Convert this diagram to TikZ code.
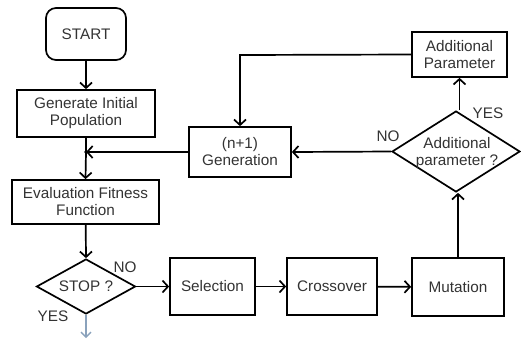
\documentclass[tikz,border=0pt]{standalone}
\usepackage{fontspec}
\setmainfont{Liberation Sans}
\usetikzlibrary{shapes.geometric,arrows.meta}

\definecolor{txtgray}{HTML}{333333}
\definecolor{exitblue}{HTML}{8AA2BC}

\tikzset{
  flowfont/.style={font=\fontsize{15.3}{17}\selectfont},
  flowbox/.style={draw, rectangle, line width=1.7pt, inner sep=0pt, align=center,
    text=txtgray, flowfont},
  flowdec/.style={draw, diamond, line width=1.7pt, inner sep=0pt},
  flowtext/.style={inner sep=0pt, align=center, text=txtgray, flowfont},
  flowlbl/.style={inner sep=0pt, text=txtgray, flowfont},
  flowarr/.style={line width=1.7pt, -{Straight Barb[length=5.5pt,width=12pt,line width=1.7pt]}},
  flowline/.style={line width=1.7pt}
}

\begin{document}
\begin{tikzpicture}[x=1pt,y=-1pt]
  \useasboundingbox (0,0) rectangle (521,338);

  % main column
  \node[flowbox, rounded corners=10pt, minimum width=80pt, minimum height=52pt] (start) at (86,34) {START};
  \node[flowbox, minimum width=138pt, minimum height=47pt] (gen) at (86,113.5) {Generate Initial\\Population};
  \node[flowbox, minimum width=147pt, minimum height=44pt] (eval) at (85.5,202) {Evaluation Fitness\\Function};
  \node[flowdec, minimum width=99pt, minimum height=55pt] (stop) at (86,286.5) {};
  \node[flowtext] at (stop) {STOP ?};

  % genetic operators
  \node[flowbox, minimum width=85pt, minimum height=57pt] (sel) at (212.5,286.5) {Selection};
  \node[flowbox, minimum width=90pt, minimum height=57pt] (cross) at (332,286.5) {Crossover};
  \node[flowbox, minimum width=92pt, minimum height=58pt] (mut) at (458,287) {Mutation};

  % parameter check and next generation
  \node[flowdec, minimum width=128pt, minimum height=81pt] (apq) at (456,151.5) {};
  \node[flowtext] at (457,153) {Additional\\parameter ?};
  \node[flowbox, minimum width=95pt, minimum height=45pt] (apar) at (459.5,54.5) {Additional\\Parameter};
  \node[flowbox, minimum width=102pt, minimum height=50pt] (ngen) at (240,152) {(n+1)\\Generation};

  \coordinate (join) at (86,152);
  \coordinate (bend) at (240,55);
  \coordinate (exit) at (86,338);

  % connectors
  \draw[flowarr] (start) -- (gen);
  \draw[flowline] (gen.south) -- (join);
  \draw[flowarr] (join) -- (eval.north);
  \fill (join) circle (1.9pt);
  \draw[flowarr] (ngen.west) -- (join);
  \draw[flowarr] (eval) -- (stop.north);
  \draw[flowarr] (stop.east) -- (sel.west);
  \draw[flowarr] (sel) -- (cross);
  \draw[flowarr] (cross) -- (mut);
  \draw[flowarr] (mut.north) -- (mut.north |- apq.south);
  \draw[flowarr] (apar.south |- apq.north) -- (apar.south);
  \draw[flowarr] (apq.west) -- (ngen.east);
  \draw[flowarr] (apar.west) -- (bend) -- (ngen.north);
  \draw[line width=1.3pt, draw=exitblue, -{Straight Barb[length=5pt,width=10pt,line width=1.3pt]}] (stop.south) -- (exit);

  % branch labels
  \node[flowlbl] (stopno) at (125,267) {NO};
  \node[flowlbl] (stopyes) at (53,316) {YES};
  \node[flowlbl] (apqyes) at (488,113) {YES};
  \node[flowlbl] (apqno) at (388,136) {NO};
\end{tikzpicture}
\end{document}
